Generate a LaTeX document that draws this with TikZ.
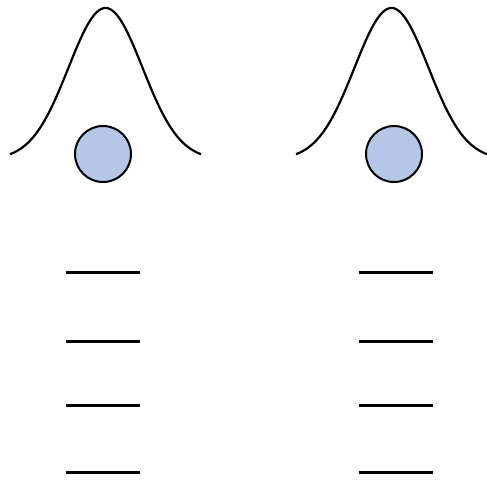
\documentclass[tikz,border=0pt]{standalone}
\usepackage{xcolor}
\usepackage{tikz}
\definecolor{ballblue}{HTML}{B4C7E7}

\begin{document}
\begin{tikzpicture}[
				x=1pt, y=-1pt,
				bell/.style={
					line width=2.2pt,
					black
				},
				ball/.style={
					circle,
					draw=black,
					line width=2pt,
					fill=ballblue,
					minimum size=56pt,
					inner sep=0pt
				},
				level/.style={
					line width=3pt,
					black
				}
				]
				\useasboundingbox (0,0) rectangle (487,480);
				
				\draw[bell, domain=10:201, samples=120, smooth] plot (\x, {154-146*(exp(-((\x-105.5)/37)^2/2)-0.037)/0.963});
				\draw[bell, domain=296:487, samples=120, smooth] plot (\x, {154-146*(exp(-((\x-391.5)/37)^2/2)-0.037)/0.963});
				
				\node[ball] (ballL) at (103,154) {};
				\node[ball] (ballR) at (394,154) {};
				
				\foreach \y in {272,341,405,472} {
					\draw[level] (66,\y) -- (140,\y);
					\draw[level] (359,\y) -- (433,\y);
				}
			\end{tikzpicture}
\end{document}
